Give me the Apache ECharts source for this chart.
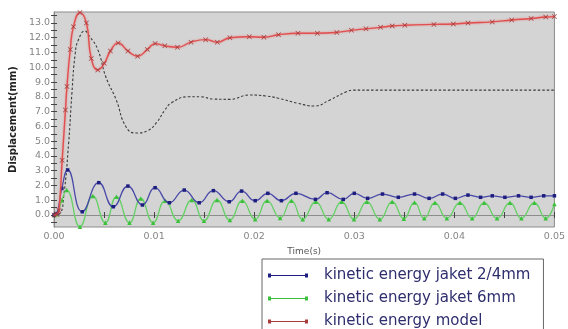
<!DOCTYPE html>
<html>
<head>
<meta charset="utf-8">
<script src="https://cdn.jsdelivr.net/npm/echarts@6/dist/echarts.min.js"></script>
<style>html,body{margin:0;padding:0;background:#fff}#c{width:568px;height:329px}</style>
</head>
<body>
<div id="c"></div>
<script>
// ---- data (time in s, displacement in mm) ----
var blueT = [0,0.00029,0.00078,0.00136,0.00282,0.00447,0.00592,0.00738,0.00883,0.0101,0.01152,0.01301,0.0145,0.01592,0.0175,0.01874,0.0201,0.02136,0.02272,0.02417,0.02612,0.02728,0.0289,0.03,0.03133,0.03282,0.0344,0.03602,0.03748,0.03883,0.0401,0.04136,0.04262,0.04379,0.04505,0.04641,0.04767,0.04893,0.05];
var blueV = [0,0.1,1.8,3.05,0.22,2.19,0.56,1.96,0.68,1.85,0.83,1.69,0.83,1.65,0.9,1.62,0.97,1.47,0.97,1.47,1.06,1.51,1.06,1.47,1.13,1.42,1.2,1.42,1.13,1.42,1.13,1.35,1.2,1.3,1.2,1.3,1.2,1.3,1.3];

var greenT = [0,0.00029,0.00078,0.00126,0.00259,0.00388,0.00512,0.00624,0.00754,0.00867,0.0099,0.0111,0.0124,0.01376,0.01498,0.01628,0.01757,0.01881,0.0201,0.02129,0.02259,0.02372,0.02485,0.02615,0.02745,0.02874,0.02997,0.03126,0.03255,0.03379,0.03495,0.03602,0.03699,0.03806,0.03925,0.04055,0.04178,0.04298,0.04427,0.04556,0.0467,0.04799,0.04913,0.05];
var greenV = [0,0.05,1.0,1.69,-0.79,1.29,-0.52,1.24,-0.52,1.12,-0.52,0.97,-0.39,1.02,-0.39,1.02,-0.34,0.97,-0.29,0.97,-0.2,0.97,-0.29,0.9,-0.29,0.9,-0.29,0.9,-0.29,0.9,-0.25,0.85,-0.22,0.83,-0.22,0.83,-0.22,0.83,-0.22,0.83,-0.22,0.83,-0.22,0.75];

var redT = [0,0.00029,0.00049,0.00081,0.00114,0.00129,0.00162,0.00194,0.00259,0.00323,0.00372,0.00437,0.00502,0.00563,0.00641,0.00738,0.00835,0.00932,0.0101,0.01107,0.01233,0.01369,0.01515,0.01631,0.01757,0.01951,0.02097,0.02243,0.02437,0.02631,0.02825,0.02971,0.03117,0.03262,0.03379,0.03505,0.03796,0.0399,0.04136,0.04379,0.04573,0.04767,0.04913,0.05];
var redV = [0,0.05,0.3,3.7,7.1,8.7,11.2,12.75,13.7,13.0,10.6,9.82,10.27,11.1,11.65,11.1,10.75,11.2,11.6,11.45,11.35,11.7,11.87,11.7,12.0,12.06,12.03,12.2,12.3,12.3,12.36,12.5,12.6,12.7,12.79,12.84,12.9,12.93,13.0,13.07,13.2,13.3,13.4,13.43];

var dashT = [0,0.00058,0.00097,0.00146,0.00178,0.00211,0.00243,0.00308,0.00356,0.00437,0.00517,0.00621,0.00718,0.00816,0.00932,0.01029,0.01107,0.01175,0.0134,0.01466,0.01592,0.01757,0.01951,0.02117,0.02243,0.02437,0.02599,0.02757,0.02922,0.02987,0.03214,0.05];
var dashV = [0,0.1,1.3,4.9,8.2,10.9,11.85,12.45,12.08,11.2,9.36,7.8,5.98,5.55,5.7,6.3,7.1,7.6,8.0,8.0,7.85,7.83,8.12,8.06,7.9,7.56,7.38,7.79,8.35,8.45,8.45,8.45];

var seriesNames = ['kinetic energy jaket 2/4mm','kinetic energy jaket 6mm','kinetic energy model'];
var xTicks = [0,0.01,0.02,0.03,0.04,0.05];
var yTicks = [0,1,2,3,4,5,6,7,8,9,10,11,12,13];

function pairs(t, v){ return t.map(function(x,i){ return [x, v[i]]; }); }
var yMinor = [];
for (var k = -0.5; k <= 13.5; k += 0.5) yMinor.push(k);

var crossPath = 'path://M0,1 L1,0 L5,4 L9,0 L10,1 L6,5 L10,9 L9,10 L5,6 L1,10 L0,9 L4,5 Z';
var legendIcon = 'path://M0,1 L3,1 L3,2.5 L37,2.5 L37,1 L40,1 L40,5 L37,5 L37,3.5 L3,3.5 L3,5 L0,5 Z';

var chart = echarts.init(document.getElementById('c'), null, {renderer:'canvas'});
var FONT = 'DejaVu Sans';
chart.setOption({
  animation: false,
  backgroundColor: '#ffffff',
  grid: { left: 49, right: 4, top: 12, bottom: 102, show: true, backgroundColor: '#d4d4d4', borderColor: '#8c8c8c', borderWidth: 1 },
  legend: {
    data: seriesNames.map(function(n){ return {name:n, icon: legendIcon}; }),
    orient: 'vertical', left: 262, top: 259, height: 120,
    itemWidth: 40, itemHeight: 6, itemGap: 8,
    padding: [9, 13, 10, 6],
    borderColor: '#666', borderWidth: 1, backgroundColor: '#fff', borderRadius: 0,
    textStyle: { fontFamily: FONT, fontSize: 15, color: '#2e2e6e', padding: [0,0,0,11], lineHeight: 15 }
  },
  xAxis: [{
    type: 'value', min: 0, max: 0.05, interval: 0.01,
    name: 'Time(s)', nameLocation: 'middle', nameGap: 14,
    nameTextStyle: { fontFamily: FONT, fontSize: 9, color: '#555' },
    axisLine: { show: true, lineStyle: { color: '#8c8c8c' } },
    axisTick: { show: true, inside: true, length: 3, lineStyle: { color: '#444' } },
    minorTick: { show: true, splitNumber: 2, length: 3, lineStyle: { color: '#444' } },
    splitLine: { show: false },
    axisLabel: { fontFamily: FONT, fontSize: 9.5, color: '#858585', margin: 5,
      customValues: xTicks, formatter: function(v){ return v.toFixed(2); } }
  },{
    type: 'value', position: 'top', min: 0, max: 0.05, interval: 0.01,
    axisLine: { show: true, lineStyle: { color: '#8c8c8c' } },
    axisTick: { show: true, inside: true, length: 3, lineStyle: { color: '#444' } },
    minorTick: { show: true, splitNumber: 2, length: 3, lineStyle: { color: '#444' } },
    axisLabel: { show: false }, splitLine: { show: false }
  }],
  yAxis: [{
    type: 'value', min: -0.81, max: 13.74,
    name: 'Displacement(mm)', nameLocation: 'middle', nameGap: 27, nameRotate: 90,
    nameTextStyle: { fontFamily: FONT, fontSize: 10, fontWeight: 'bold', color: '#222' },
    axisLine: { show: true, lineStyle: { color: '#8c8c8c' } },
    axisTick: { show: true, inside: true, length: 3, customValues: yMinor, lineStyle: { color: '#444' } },
    splitLine: { show: false },
    axisLabel: { fontFamily: FONT, fontSize: 9.5, color: '#858585', margin: 4,
      customValues: yTicks, formatter: function(v){ return v.toFixed(1); } }
  },{
    type: 'value', position: 'right', min: -0.81, max: 13.74,
    axisLine: { show: true, lineStyle: { color: '#8c8c8c' } },
    axisTick: { show: true, inside: true, length: 3, customValues: yMinor, lineStyle: { color: '#444' } },
    axisLabel: { show: false }, splitLine: { show: false }
  }],
  series: [
    {
      name: 'dashed', type: 'line', data: pairs(dashT, dashV), smooth: 0.5, symbol: 'none',
      lineStyle: { color: '#3a3a3a', width: 1.1, type: [2.5, 2] }, z: 2
    },
    {
      name: seriesNames[0], type: 'line', data: pairs(blueT, blueV), smooth: 0.5,
      symbol: 'rect', symbolSize: 3.5, showSymbol: true,
      itemStyle: { color: '#1e1e80' },
      lineStyle: { color: '#4848a8', width: 1.3 }, z: 4
    },
    {
      name: seriesNames[1], type: 'line', data: pairs(greenT, greenV), smooth: 0.5,
      symbol: 'triangle', symbolSize: 4.5, showSymbol: true,
      itemStyle: { color: '#3cc03c' },
      lineStyle: { color: '#66d066', width: 1.3 }, z: 3
    },
    {
      name: seriesNames[2], type: 'line', data: pairs(redT, redV), smooth: 0.5,
      symbol: crossPath, symbolSize: 5, showSymbol: true,
      itemStyle: { color: '#a83a3a' },
      lineStyle: { color: '#e05050', width: 1.4, shadowColor: 'rgba(240,110,110,0.8)', shadowBlur: 2 }, z: 5
    }
  ]
});
</script>
</body>
</html>
